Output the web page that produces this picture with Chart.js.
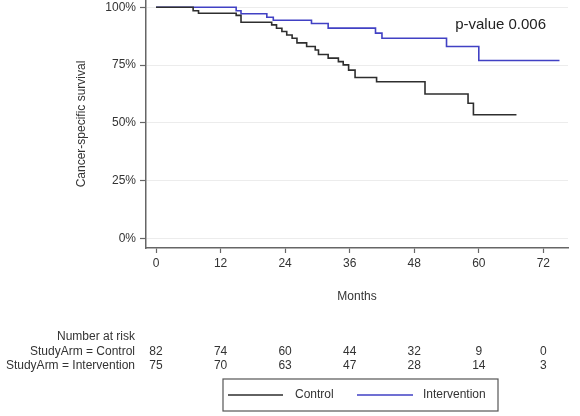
<!DOCTYPE html>
<html>
<head>
<meta charset="utf-8">
<script src="https://cdn.jsdelivr.net/npm/chart.js@4.4.1/dist/chart.umd.min.js"></script>
<style>
html, body { margin: 0; padding: 0; background: #fff; }
#wrap { width: 580px; height: 416px; position: relative; }
</style>
</head>
<body>
<div id="wrap"><canvas id="kmChart"></canvas></div>
<script>
// Kaplan-Meier steps (months, survival %)
var controlMonths = [0, 6.9, 7.9, 14.9, 15.8, 21.5, 22.4, 23.4, 24.3, 25.3, 26.2, 28.0, 29.6, 30.2, 32.0, 33.9, 34.8, 35.8, 37.0, 41.0, 50.0, 58.0, 59.0, 67.0];
var controlSurvival = [100, 98.5, 97.4, 96.5, 93.5, 92.4, 90.9, 89.5, 88.0, 86.6, 84.6, 83.0, 81.5, 79.6, 78.0, 76.5, 75.1, 72.8, 69.6, 67.8, 62.5, 58.5, 53.5, 53.5];
var interventionMonths = [0, 14.9, 15.8, 20.6, 21.8, 28.9, 32.0, 40.8, 42.0, 54.0, 60.0, 75.0];
var interventionSurvival = [100, 98.5, 97.2, 95.7, 94.4, 93.0, 91.0, 88.8, 86.6, 83.0, 77.0, 77.0];

var xTicks = [0, 12, 24, 36, 48, 60, 72];
var yTicks = [0, 25, 50, 75, 100];

var seriesNames = ['Control', 'Intervention'];
var riskLabels = ['StudyArm = Control', 'StudyArm = Intervention'];
var riskControl = [82, 74, 60, 44, 32, 9, 0];
var riskIntervention = [75, 70, 63, 47, 28, 14, 3];
var pValueText = 'p-value 0.006';

var FONT = '"Liberation Sans", Arial, sans-serif';
var colors = ['#2e2e2e', '#4141c4'];

function toPoints(xs, ys) {
    var pts = [];
    for (var i = 0; i < xs.length; i++) pts.push({ x: xs[i], y: ys[i] });
    return pts;
}

// number-at-risk table, legend box and p-value label
var extras = {
    id: 'extras',
    afterDraw: function (chart) {
        var ctx = chart.ctx;
        var x = chart.scales.x;
        var y = chart.scales.y;
        var area = chart.chartArea;
        ctx.save();

        ctx.fillStyle = '#222';
        ctx.font = '15px ' + FONT;
        ctx.textAlign = 'left';
        ctx.textBaseline = 'middle';
        ctx.fillText(pValueText, x.getPixelForValue(55.6), y.getPixelForValue(92.3));

        ctx.font = '12px ' + FONT;
        ctx.fillStyle = '#333';
        ctx.textAlign = 'right';
        var labelRight = area.left - 11;
        ctx.fillText('Number at risk', labelRight, 337);
        ctx.fillText(riskLabels[0], labelRight, 352);
        ctx.fillText(riskLabels[1], labelRight, 366);
        ctx.textAlign = 'center';
        for (var i = 0; i < xTicks.length; i++) {
            var px = x.getPixelForValue(xTicks[i]);
            ctx.fillText(String(riskControl[i]), px, 352);
            ctx.fillText(String(riskIntervention[i]), px, 366);
        }

        // legend
        var cx = (area.left + area.right) / 2 + 3;
        var bx = cx - 137, by = 379, bw = 275, bh = 32;
        ctx.strokeStyle = '#555';
        ctx.lineWidth = 1.2;
        ctx.strokeRect(bx, by, bw, bh);
        var ly = by + bh / 2;
        ctx.lineWidth = 1.5;
        ctx.strokeStyle = colors[0];
        ctx.beginPath(); ctx.moveTo(bx + 5, ly); ctx.lineTo(bx + 60, ly); ctx.stroke();
        ctx.strokeStyle = colors[1];
        ctx.beginPath(); ctx.moveTo(bx + 134, ly); ctx.lineTo(bx + 190, ly); ctx.stroke();
        ctx.fillStyle = '#333';
        ctx.textAlign = 'left';
        ctx.fillText(seriesNames[0], bx + 72, ly);
        ctx.fillText(seriesNames[1], bx + 200, ly);
        ctx.restore();
    }
};

var ctx = document.getElementById('kmChart').getContext('2d');
var chart = new Chart(ctx, {
    type: 'line',
    data: {
        datasets: [{
            label: seriesNames[0],
            data: toPoints(controlMonths, controlSurvival),
            borderColor: colors[0],
            borderWidth: 1.6,
            stepped: 'before',
            pointRadius: 0,
            fill: false
        }, {
            label: seriesNames[1],
            data: toPoints(interventionMonths, interventionSurvival),
            borderColor: colors[1],
            borderWidth: 1.6,
            stepped: 'before',
            pointRadius: 0,
            fill: false
        }]
    },
    options: {
        responsive: true,
        maintainAspectRatio: false,
        animation: false,
        layout: { padding: { left: 0, right: 12, top: 0, bottom: 0 } },
        plugins: {
            legend: { display: false },
            tooltip: { enabled: false }
        },
        scales: {
            x: {
                type: 'linear',
                min: -1.86,
                max: 76.58,
                afterBuildTicks: function (scale) {
                    scale.ticks = xTicks.map(function (v) { return { value: v }; });
                },
                afterFit: function (scale) {
                    scale.height = 168;
                    scale.paddingLeft = 0;
                    scale.paddingRight = 0;
                },
                grid: { drawOnChartArea: false, drawTicks: true, tickLength: 5, tickColor: '#666', tickWidth: 1.2 },
                border: { color: '#666', width: 1.5 },
                ticks: { color: '#333', padding: 3, font: { family: FONT, size: 12 }, maxRotation: 0 },
                title: { display: true, text: 'Months', color: '#333', font: { family: FONT, size: 12 }, padding: { top: 0, bottom: 112 } }
            },
            y: {
                min: -4.15,
                max: 103.15,
                afterBuildTicks: function (scale) {
                    scale.ticks = yTicks.map(function (v) { return { value: v }; });
                },
                afterFit: function (scale) {
                    scale.width = 146;
                    scale.paddingTop = 0;
                    scale.paddingBottom = 0;
                },
                grid: { color: '#ececec', lineWidth: 1, drawTicks: true, tickLength: 6, tickColor: '#666', tickWidth: 1.2 },
                border: { color: '#666', width: 1.5 },
                ticks: {
                    color: '#333', padding: 4, font: { family: FONT, size: 12 },
                    callback: function (v) { return v + '%'; }
                },
                title: { display: true, text: 'Cancer-specific survival', color: '#333', font: { family: FONT, size: 12 }, padding: { top: 74, bottom: 0 } }
            }
        }
    },
    plugins: [extras]
});
</script>
</body>
</html>
